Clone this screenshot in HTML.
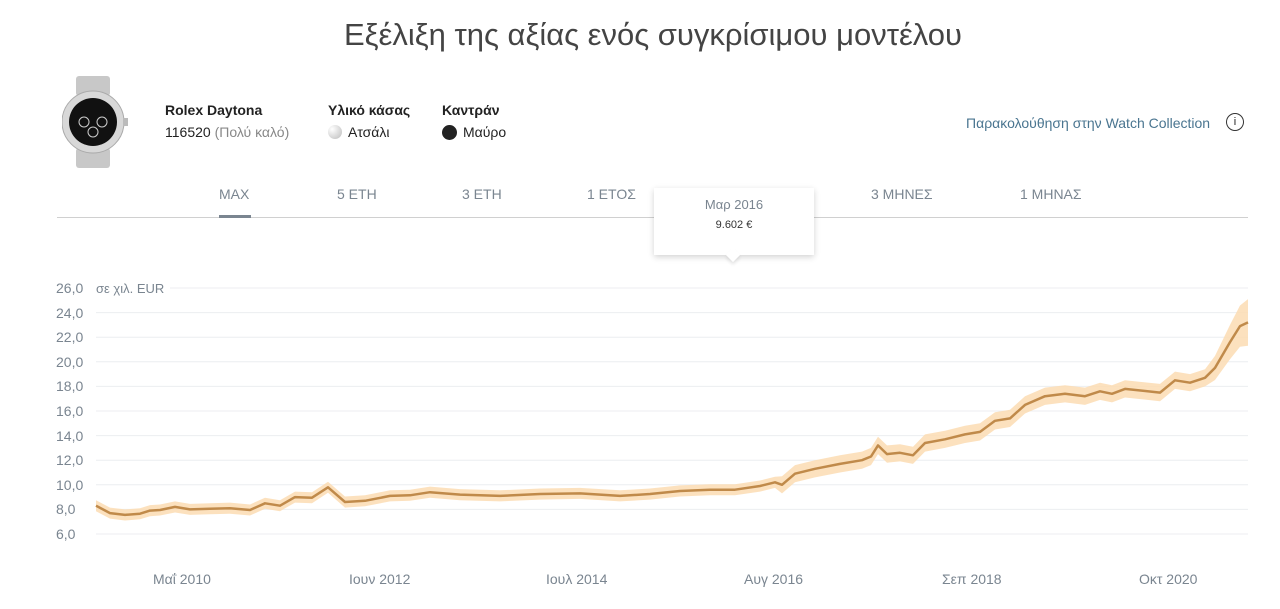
<!DOCTYPE html>
<html><head><meta charset="utf-8">
<style>
body{margin:0;width:1280px;height:609px;background:#fff;font-family:"Liberation Sans",sans-serif;position:relative;overflow:hidden;color:#222}
.a{position:absolute;white-space:nowrap}
.title{left:0;width:1306px;text-align:center;top:17px;font-size:31px;color:#444;font-weight:300}
.tab{top:186px;font-size:14px;color:#7a8590}
.yl{font-size:14px;color:#7a8590;left:56px}
.xl{font-size:14px;color:#7a8590;top:571px}
</style></head><body>
<div class="a title">Εξέλιξη της αξίας ενός συγκρίσιμου μοντέλου</div>

<svg class="a" style="left:62px;top:76px" width="66" height="92">
<rect x="14" y="0" width="34" height="20" rx="3" fill="#c8c8c8"/>
<rect x="14" y="72" width="34" height="20" rx="3" fill="#c8c8c8"/>
<circle cx="31" cy="46" r="31" fill="#d8d8d8" stroke="#aaa"/>
<circle cx="31" cy="46" r="24" fill="#111"/>
<circle cx="22" cy="46" r="5" fill="none" stroke="#ccc"/>
<circle cx="40" cy="46" r="5" fill="none" stroke="#ccc"/>
<circle cx="31" cy="56" r="5" fill="none" stroke="#ccc"/>
<rect x="61" y="42" width="5" height="8" fill="#bbb"/>
</svg>
<div class="a" style="left:165px;top:102px;font-size:14px;font-weight:bold">Rolex Daytona</div>
<div class="a" style="left:165px;top:124px;font-size:14px">116520 <span style="color:#888">(Πολύ καλό)</span></div>
<div class="a" style="left:328px;top:102px;font-size:14px;font-weight:bold">Υλικό κάσας</div>
<div class="a" style="left:328px;top:125px;width:14px;height:14px;border-radius:50%;background:radial-gradient(circle at 30% 30%,#fff,#bbb)"></div>
<div class="a" style="left:348px;top:124px;font-size:14px">Ατσάλι</div>
<div class="a" style="left:442px;top:102px;font-size:14px;font-weight:bold">Καντράν</div>
<div class="a" style="left:442px;top:125px;width:15px;height:15px;border-radius:50%;background:#222"></div>
<div class="a" style="left:463px;top:124px;font-size:14px">Μαύρο</div>
<div class="a" style="left:966px;top:115px;font-size:14px;color:#4a7590">Παρακολούθηση στην Watch Collection</div>
<div class="a" style="left:1226px;top:113px;width:16px;height:16px;border:1px solid #333;border-radius:50%;font-size:11px;text-align:center;line-height:16px">i</div>

<div class="a tab" style="left:219px">MAX</div>
<div class="a tab" style="left:337px">5 ΕΤΗ</div>
<div class="a tab" style="left:462px">3 ΕΤΗ</div>
<div class="a tab" style="left:587px">1 ΕΤΟΣ</div>
<div class="a tab" style="left:871px">3 ΜΗΝΕΣ</div>
<div class="a tab" style="left:1020px">1 ΜΗΝΑΣ</div>
<div class="a" style="left:57px;top:217px;width:1191px;height:1px;background:#d0d0d0"></div>
<div class="a" style="left:219px;top:215px;width:32px;height:3px;background:#7a8590"></div>

<svg id="ch" class="a" style="left:0;top:0" width="1280" height="609"></svg>
<div class="a yl" style="top:280px">26,0</div>
<div class="a" style="left:96px;top:281px;font-size:13px;color:#7a8590;background:#fff;padding-right:4px">σε χιλ. EUR</div>
<div id="yls"></div>
<div class="a xl" style="left:153px">Μαΐ 2010</div>
<div class="a xl" style="left:349px">Ιουν 2012</div>
<div class="a xl" style="left:546px">Ιουλ 2014</div>
<div class="a xl" style="left:744px">Αυγ 2016</div>
<div class="a xl" style="left:942px">Σεπ 2018</div>
<div class="a xl" style="left:1139px">Οκτ 2020</div>

<div class="a" style="left:654px;top:188px;width:160px;height:67px;background:#fff;box-shadow:0 2px 6px rgba(0,0,0,.18)"></div>
<div class="a" style="left:728px;top:250px;width:10px;height:10px;background:#fff;transform:rotate(45deg);box-shadow:2px 2px 3px rgba(0,0,0,.1)"></div>
<div class="a" style="left:654px;top:197px;width:160px;text-align:center;font-size:13px;color:#7a8590">Μαρ 2016</div>
<div class="a" style="left:654px;top:219px;width:160px;text-align:center;font-size:11px;color:#333">9.602 €</div>

<script>
var Y=function(v){return 288+(26-v)*12.3};
var s='';
for(var v=24;v>=6;v-=2){s+='<line x1="96" x2="1248" y1="'+Y(v)+'" y2="'+Y(v)+'" stroke="#eceef0"/>';}
s+='<line x1="170" x2="1248" y1="288" y2="288" stroke="#eceef0"/>';
var p=[[96,8.3],[110,7.7],[125,7.55],[140,7.65],[150,7.9],[160,7.95],[175,8.2],[190,8.0],[210,8.05],[230,8.1],[250,7.95],[265,8.5],[280,8.3],[295,9.0],[312,8.95],[328,9.8],[345,8.6],[365,8.7],[390,9.1],[410,9.15],[430,9.4],[460,9.2],[500,9.1],[540,9.25],[580,9.3],[620,9.1],[650,9.25],[680,9.5],[710,9.6],[735,9.6],[760,9.9],[775,10.2],[782,10.0],[795,10.9],[815,11.3],[840,11.7],[862,12.0],[871,12.3],[878,13.2],[887,12.5],[900,12.6],[913,12.4],[925,13.4],[945,13.7],[965,14.1],[980,14.3],[995,15.2],[1010,15.4],[1025,16.5],[1045,17.2],[1065,17.4],[1085,17.2],[1100,17.6],[1112,17.4],[1125,17.8],[1160,17.5],[1175,18.5],[1190,18.3],[1205,18.7],[1215,19.5],[1230,21.6],[1240,22.9],[1248,23.2]];
function w(x){return x<780?0.45:(x<1205?0.7:0.7+(x-1205)/43*1.2);}
var up='',dn='',ln='';
p.forEach(function(q,i){ln+=(i?'L':'M')+q[0]+','+Y(q[1]).toFixed(1);up+=(i?'L':'M')+q[0]+','+Y(q[1]+w(q[0])).toFixed(1);});
for(var i=p.length-1;i>=0;i--){dn+='L'+p[i][0]+','+Y(p[i][1]-w(p[i][0])).toFixed(1);}
s+='<path d="'+up+dn+'Z" fill="#fbdcb3" opacity="0.85"/>';
s+='<path d="'+ln+'" fill="none" stroke="#c08a4a" stroke-width="2.5" stroke-linejoin="round"/>';
document.getElementById('ch').innerHTML=s;
var h='';
for(var v=24;v>=6;v-=2){h+='<div class="a yl" style="top:'+(Y(v)-8)+'px">'+v+',0</div>';}
document.getElementById('yls').innerHTML=h;
</script>
</body></html>
